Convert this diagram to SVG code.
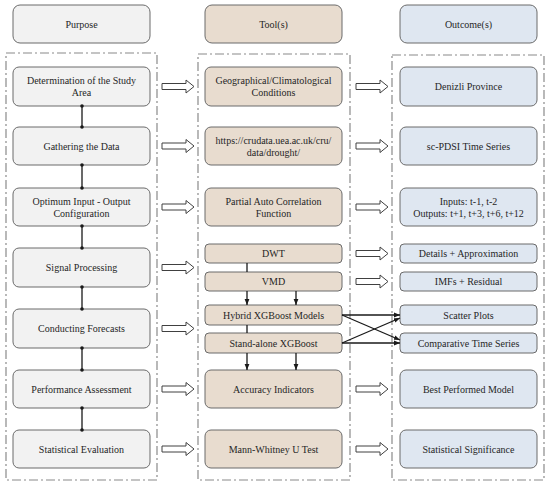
<svg xmlns="http://www.w3.org/2000/svg" width="550" height="488" viewBox="0 0 550 488">
<style>
text{font-family:'Liberation Serif','Times New Roman','DejaVu Serif',serif;font-size:10px;fill:#262626;text-anchor:middle;dominant-baseline:central}
.p{fill:#f2f2f2;stroke:#6b6b6b;stroke-width:1}
.t{fill:#e8dccf;stroke:#6b6b6b;stroke-width:1}
.o{fill:#dfe7f1;stroke:#6b6b6b;stroke-width:1}
.c{fill:none;stroke:#8a8a8a;stroke-width:1.2;stroke-dasharray:9,3,2,3}
.ha{fill:#fff;stroke:#404040;stroke-width:1}
.ln{stroke:#1a1a1a;stroke-width:1.3;fill:none}
.la{stroke:#1a1a1a;stroke-width:1.3;fill:none;marker-end:url(#ah)}
</style>
<defs>
<marker id="ah" viewBox="0 0 10 10" refX="10" refY="5" markerWidth="6" markerHeight="6" markerUnits="userSpaceOnUse" orient="auto">
<path d="M0,1 L10,5 L0,9 Z" fill="#1a1a1a"/>
</marker>
<path id="hollow" d="M0,-3 H24 V-6.5 L32,0 L24,6.5 V3 H0 Z"/>
</defs>

<g id="containers">
<rect class="c" x="6" y="53" width="151" height="427"/>
<rect class="c" x="198" y="54" width="152" height="426"/>
<rect class="c" x="392" y="55" width="152" height="425"/>
</g>

<g font-family="Liberation Serif, serif">
<g id="hdr-purpose"><rect class="p" x="13" y="5" width="137" height="38" rx="7"/><text x="81.5" y="24">Purpose</text></g>
<g id="hdr-tools"><rect class="t" x="205" y="5" width="137" height="38" rx="7"/><text x="273.5" y="24">Tool(s)</text></g>
<g id="hdr-outcome"><rect class="o" x="400" y="5" width="137" height="38" rx="7"/><text x="468.5" y="24">Outcome(s)</text></g>

<g id="p1"><rect class="p" x="13" y="67" width="137" height="39" rx="6"/><text x="81.5" y="80.5">Determination of the Study</text><text x="81.5" y="92.5">Area</text></g>
<g id="p2"><rect class="p" x="13" y="127" width="137" height="38" rx="6"/><text x="81.5" y="146">Gathering the Data</text></g>
<g id="p3"><rect class="p" x="13" y="188" width="137" height="38" rx="6"/><text x="81.5" y="201">Optimum Input - Output</text><text x="81.5" y="213">Configuration</text></g>
<g id="p4"><rect class="p" x="13" y="248" width="137" height="39" rx="6"/><text x="81.5" y="267.5">Signal Processing</text></g>
<g id="p5"><rect class="p" x="13" y="309" width="137" height="39" rx="6"/><text x="81.5" y="328.5">Conducting Forecasts</text></g>
<g id="p6"><rect class="p" x="13" y="370" width="137" height="38" rx="6"/><text x="81.5" y="389">Performance Assessment</text></g>
<g id="p7"><rect class="p" x="13" y="430" width="137" height="38" rx="6"/><text x="81.5" y="449">Statistical Evaluation</text></g>

<g id="t1"><rect class="t" x="205" y="67" width="137" height="39" rx="6"/><text x="273.5" y="80.5">Geographical/Climatological</text><text x="273.5" y="92.5">Conditions</text></g>
<g id="t2"><rect class="t" x="205" y="127" width="137" height="38" rx="6"/><text x="273.5" y="140">https://crudata.uea.ac.uk/cru/</text><text x="273.5" y="152">data/drought/</text></g>
<g id="t3"><rect class="t" x="205" y="188" width="137" height="38" rx="6"/><text x="273.5" y="201">Partial Auto Correlation</text><text x="273.5" y="213">Function</text></g>
<g id="t-dwt"><rect class="t" x="205" y="244" width="137" height="19" rx="4"/><text x="273.5" y="253.5">DWT</text></g>
<g id="t-vmd"><rect class="t" x="205" y="272" width="137" height="19" rx="4"/><text x="273.5" y="281.5">VMD</text></g>
<g id="t-hybrid"><rect class="t" x="205" y="305" width="137" height="20" rx="4"/><text x="273.5" y="315">Hybrid XGBoost Models</text></g>
<g id="t-stand"><rect class="t" x="205" y="333" width="137" height="20" rx="4"/><text x="273.5" y="343">Stand-alone XGBoost</text></g>
<g id="t-acc"><rect class="t" x="205" y="370" width="137" height="38" rx="6"/><text x="273.5" y="389">Accuracy Indicators</text></g>
<g id="t-mann"><rect class="t" x="205" y="430" width="137" height="38" rx="6"/><text x="273.5" y="449">Mann-Whitney U Test</text></g>

<g id="o1"><rect class="o" x="400" y="67" width="137" height="39" rx="6"/><text x="468.5" y="86.5">Denizli Province</text></g>
<g id="o2"><rect class="o" x="400" y="127" width="137" height="38" rx="6"/><text x="468.5" y="146">sc-PDSI Time Series</text></g>
<g id="o3"><rect class="o" x="400" y="188" width="137" height="38" rx="6"/><text x="468.5" y="201">Inputs: t-1, t-2</text><text x="468.5" y="213">Outputs: t+1, t+3, t+6, t+12</text></g>
<g id="o-details"><rect class="o" x="400" y="244" width="137" height="19" rx="4"/><text x="468.5" y="253.5">Details + Approximation</text></g>
<g id="o-imfs"><rect class="o" x="400" y="272" width="137" height="19" rx="4"/><text x="468.5" y="281.5">IMFs + Residual</text></g>
<g id="o-scatter"><rect class="o" x="400" y="305" width="137" height="20" rx="4"/><text x="468.5" y="315">Scatter Plots</text></g>
<g id="o-comp"><rect class="o" x="400" y="333" width="137" height="20" rx="4"/><text x="468.5" y="343">Comparative Time Series</text></g>
<g id="o-best"><rect class="o" x="400" y="370" width="137" height="38" rx="6"/><text x="468.5" y="389">Best Performed Model</text></g>
<g id="o-sig"><rect class="o" x="400" y="430" width="137" height="38" rx="6"/><text x="468.5" y="449">Statistical Significance</text></g>
</g>

<g id="connectors">
<g fill="#1a1a1a">
<path class="ln" d="M82,106 V127 M82,165 V188 M82,226 V248 M82,287 V309 M82,348 V370 M82,408 V430"/>
<circle cx="82" cy="106" r="1.8"/><circle cx="82" cy="127" r="1.8"/>
<circle cx="82" cy="165" r="1.8"/><circle cx="82" cy="188" r="1.8"/>
<circle cx="82" cy="226" r="1.8"/><circle cx="82" cy="248" r="1.8"/>
<circle cx="82" cy="287" r="1.8"/><circle cx="82" cy="309" r="1.8"/>
<circle cx="82" cy="348" r="1.8"/><circle cx="82" cy="370" r="1.8"/>
<circle cx="82" cy="408" r="1.8"/><circle cx="82" cy="430" r="1.8"/>
</g>
<use href="#hollow" class="ha" x="162" y="86.5"/>
<use href="#hollow" class="ha" x="162" y="146"/>
<use href="#hollow" class="ha" x="162" y="207"/>
<use href="#hollow" class="ha" x="162" y="267.5"/>
<use href="#hollow" class="ha" x="162" y="328.5"/>
<use href="#hollow" class="ha" x="162" y="389"/>
<use href="#hollow" class="ha" x="162" y="449"/>
<use href="#hollow" class="ha" x="356" y="86.5"/>
<use href="#hollow" class="ha" x="356" y="146"/>
<use href="#hollow" class="ha" x="356" y="207"/>
<use href="#hollow" class="ha" x="356" y="253.5"/>
<use href="#hollow" class="ha" x="356" y="281.5"/>
<use href="#hollow" class="ha" x="356" y="389"/>
<use href="#hollow" class="ha" x="356" y="449"/>
<path class="ln" d="M247,263 V272 M247,325 V333"/>
<path class="la" d="M247,291 V305"/>
<path class="la" d="M296,291 V305"/>
<path class="la" d="M247,353 V370"/>
<path class="la" d="M296,353 V370"/>
<path class="la" d="M342,315 H400"/>
<path class="la" d="M342,315 L400,340"/>
<path class="la" d="M342,343 L400,318"/>
<path class="la" d="M342,343 H400"/>
</g>
</svg>
